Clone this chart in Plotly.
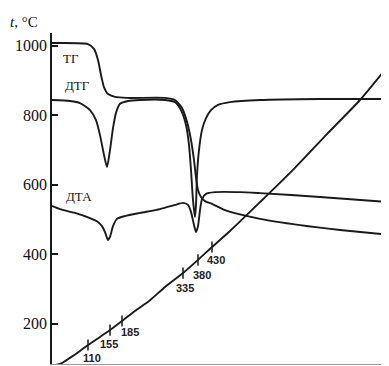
import plotly.graph_objects as go

# time axis (arbitrary units), temperature axis in °C
tg_x = [0, 8, 36, 42, 46, 49, 52, 56, 63, 75, 113, 123, 130, 135, 139, 142, 144, 146, 149, 153, 160, 173, 208, 248, 288, 337]
tg_y = [1008, 1008, 1005, 991, 959, 916, 881, 861, 853, 850, 850, 844, 821, 781, 729, 671, 620, 585, 565, 553, 545, 527, 502, 484, 470, 456]

dtg_x = [0, 18, 28, 38, 44, 48, 52, 55, 58, 61, 64, 68, 76, 88, 113, 123, 129, 134, 137, 139, 141, 143, 144, 145, 147, 150, 154, 159, 166, 178, 208, 268, 337]
dtg_y = [844, 841, 835, 815, 786, 743, 686, 651, 700, 763, 807, 833, 841, 844, 844, 838, 815, 772, 715, 643, 556, 507, 542, 628, 700, 758, 792, 815, 830, 838, 844, 847, 847]

dta_x = [0, 8, 23, 38, 46, 50, 53, 56, 58, 61, 65, 73, 88, 108, 123, 131, 136, 139, 142, 144, 146, 148, 150, 154, 163, 188, 208, 268, 337]
dta_y = [539, 530, 519, 504, 493, 481, 464, 441, 450, 481, 502, 510, 519, 530, 542, 548, 542, 522, 484, 464, 481, 527, 559, 574, 579, 579, 576, 565, 550]

t_x = [3, 10, 18, 28, 36, 48, 58, 70, 83, 98, 113, 131, 146, 160, 178, 208, 241, 275, 308, 337]
t_y = [81, 87, 102, 122, 139, 162, 182, 208, 237, 268, 306, 346, 384, 421, 467, 550, 643, 746, 844, 945]

mark_x = [36, 58, 70, 131, 146, 160]
mark_y = [139, 182, 208, 346, 384, 421]
mark_labels = ["110", "155", "185", "335", "380", "430"]

y_ticks = [1000, 800, 600, 400, 200]

curve_labels = ["ТГ", "ДТГ", "ДТА"]
curve_label_x = [19, 25, 27]
curve_label_y = [962, 887, 565]

LINE = dict(color="#1a1a1a", width=1.9)

fig = go.Figure()
for xs, ys in [(tg_x, tg_y), (dtg_x, dtg_y), (dta_x, dta_y), (t_x, t_y)]:
    fig.add_trace(go.Scatter(x=xs, y=ys, mode="lines", line=dict(LINE, shape="spline", smoothing=0.6),
                             showlegend=False, hoverinfo="skip"))

fig.add_trace(go.Scatter(x=mark_x, y=mark_y, mode="markers",
                         marker=dict(symbol="line-ns", size=8, line=dict(color="#1a1a1a", width=1.5)),
                         showlegend=False, hoverinfo="skip"))

label_dx = [4, -1, 8, 2, 4, 4]
label_dy = [-13, -14, -11, -15, -15, -13]
for x, y, s, dx, dy in zip(mark_x, mark_y, mark_labels, label_dx, label_dy):
    fig.add_annotation(x=x, y=y, text="<b>" + s + "</b>", showarrow=False, xshift=dx, yshift=dy,
                       font=dict(family="Liberation Sans", size=11, color="#222"),
                       xanchor="center", yanchor="middle")

for x, y, s in zip(curve_label_x, curve_label_y, curve_labels):
    fig.add_annotation(x=x, y=y, text=s, showarrow=False,
                       font=dict(family="Liberation Serif", size=13, color="#111"),
                       xanchor="center", yanchor="middle")

fig.add_annotation(xref="paper", yref="paper", x=-0.131, y=1.033, text="<i>t</i>, °C",
                   showarrow=False, xanchor="left", yanchor="middle",
                   font=dict(family="Liberation Serif", size=15, color="#111"))

# the page body adds an 8px offset, so the figure is 8px smaller and margins shifted
fig.update_layout(
    width=381, height=358, autosize=False,
    margin=dict(l=44, r=0, t=25, b=2, autoexpand=False),
    paper_bgcolor="white", plot_bgcolor="white",
    xaxis=dict(range=[0, 337], showgrid=False, zeroline=False, showticklabels=False,
               ticks="", showline=True, linecolor="#9a9a9a", linewidth=1, automargin=False),
    yaxis=dict(range=[84.3, 1036.8], showgrid=False, zeroline=False, automargin=False,
               tickvals=y_ticks, ticktext=[str(v) for v in y_ticks],
               ticks="inside", ticklen=6, tickwidth=1.5, tickcolor="#1a1a1a",
               showline=True, linecolor="#1a1a1a", linewidth=1.6,
               tickfont=dict(family="Liberation Serif", size=16, color="#111")),
)

fig.write_html("out.html")
